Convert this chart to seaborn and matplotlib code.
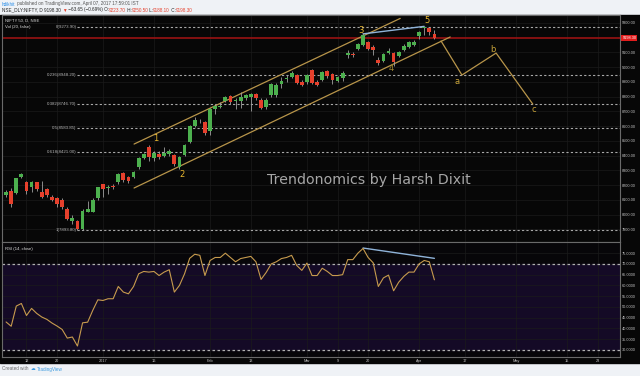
import numpy as np
import pandas as pd
import matplotlib
matplotlib.use("Agg")
import matplotlib.pyplot as plt
from matplotlib.patches import Rectangle
from matplotlib.transforms import IdentityTransform
import seaborn as sns

# daily candles, NIFTY 50, 6 Dec 2016 .. 7 Apr 2017 (trading-day index)
opens = [8131, 8163, 8143, 8252, 8218, 8184, 8218, 8150, 8170, 8122,
         8109, 8102, 8041, 7959, 7959, 7905, 8020, 8020, 8109, 8204,
         8180, 8197, 8218, 8279, 8252, 8252, 8320, 8381, 8456, 8381,
         8408, 8395, 8408, 8401, 8320, 8401, 8490, 8599, 8632, 8626,
         8565, 8714, 8728, 8769, 8803, 8770, 8769, 8789, 8796, 8816,
         8776, 8728, 8810, 8810, 8885, 8922, 8932, 8946, 8898, 8898,
         8980, 8898, 8912, 8973, 8952, 8905, 8925, 9082, 9088, 9122,
         9150, 9170, 9136, 9048, 9041, 9095, 9095, 9075, 9116, 9136,
         9150, 9211, 9264, 9265, 9223.7]
highs = [8166, 8177, 8250, 8279, 8230, 8225, 8222, 8225, 8180, 8130,
         8120, 8110, 8050, 8000, 7966, 8041, 8095, 8110, 8190, 8210,
         8200, 8205, 8280, 8290, 8260, 8292, 8390, 8415, 8470, 8430,
         8430, 8460, 8445, 8410, 8400, 8480, 8610, 8660, 8650, 8632,
         8720, 8750, 8765, 8803, 8810, 8790, 8830, 8820, 8825, 8825,
         8790, 8790, 8895, 8890, 8930, 8945, 8970, 8955, 8910, 8955,
         8990, 8915, 8973, 8980, 8960, 8939, 8975, 9116, 9100, 9160,
         9230, 9175, 9150, 9068, 9095, 9129, 9100, 9109, 9156, 9177,
         9184, 9245, 9273.9, 9270, 9250.5]
lows = [8118, 8048, 8138, 8245, 8140, 8150, 8160, 8110, 8120, 8090,
        8050, 8040, 7960, 7939, 7893.8, 7898, 8015, 8015, 8100, 8122,
        8140, 8175, 8210, 8220, 8215, 8245, 8310, 8375, 8360, 8360,
        8375, 8390, 8400, 8330, 8306, 8395, 8485, 8595, 8620, 8540,
        8537, 8680, 8720, 8760, 8750, 8715, 8720, 8780, 8705, 8780,
        8715, 8715, 8800, 8800, 8860, 8900, 8925, 8885, 8870, 8885,
        8885, 8870, 8905, 8925, 8885, 8898, 8905, 9061, 9070, 9118,
        9145, 9118, 9082, 9015, 9034, 9088, 9007, 9068, 9109, 9129,
        9143, 9190, 9215, 9215, 9188.1]
closes = [8152, 8075, 8245, 8272, 8163, 8218, 8170, 8116, 8130, 8102,
          8075, 8054, 7973, 7980, 7905, 8027, 8035, 8102, 8184, 8170,
          8186, 8184, 8272, 8231, 8225, 8286, 8381, 8408, 8388, 8415,
          8388, 8415, 8429, 8340, 8388, 8470, 8599, 8640, 8635, 8551,
          8714, 8735, 8735, 8796, 8762, 8774, 8796, 8810, 8816, 8789,
          8721, 8776, 8885, 8878, 8905, 8926, 8959, 8891, 8878, 8946,
          8891, 8880, 8966, 8939, 8912, 8932, 8959, 9095, 9085, 9156,
          9218, 9122, 9116, 9027, 9088, 9109, 9034, 9102, 9143, 9170,
          9170, 9238, 9268, 9238, 9198.3]
rsi = [43, 41, 50.4, 51.6, 46, 49.3, 47, 45.3, 44.2, 42.5,
       41.1, 39.5, 35.5, 36, 31.8, 42.6, 42.9, 48.4, 53.3, 53,
       53.8, 53.8, 59.5, 56.9, 56.1, 59.5, 65.4, 66.5, 66.2, 66.5,
       64.6, 66.2, 67.3, 56.9, 60, 65.4, 72.6, 74.5, 74, 64.6,
       71.6, 73, 73, 75, 73, 71, 72.5, 73, 73.5, 71,
       62.8, 66, 70, 71, 72.5, 73, 74, 69.3, 67, 70.4,
       64.6, 64.6, 68, 66.5, 64.6, 64.6, 65, 72, 72, 75,
       77.2, 73, 70.5, 59.5, 63.5, 64.8, 57.5, 61.5, 64.2, 66.2,
       66.2, 70, 71.6, 71, 62.6]

date_ticks = [4, 10, 19, 29, 40, 48, 59, 65, 71, 81, 90, 100, 110, 116]
date_labels = ["12", "20", "2017", "16", "Feb", "13", "Mar", "9", "20",
               "Apr", "17", "May", "15", "23"]
price_ticks = [7900, 8000, 8100, 8200, 8300, 8400, 8500, 8600, 8700,
               8800, 8900, 9000, 9100, 9300]
rsi_ticks = [30, 35, 40, 45, 50, 55, 60, 65, 70, 75]

fib_ratios = ["0", "0.236", "0.382", "0.5", "0.618", "1"]
fib_levels = [9273.90, 8948.20, 8746.70, 8583.85, 8421.00, 7893.80]
last_price = 9198.30

chan_x = [25.1, 77.3]
chan_upper = [8478, 9330]
chan_lower_x = [25.1, 87.1]
chan_lower = [8180, 9204]
abc_x = [85.3, 89.4, 96.1, 103.3]
abc_y = [9177, 8946, 9095, 8749]
div_price_x = [70, 82]
div_price_y = [9225, 9276]
div_rsi_x = [70, 84]
div_rsi_y = [77.4, 72.6]

wave_text = ["1", "2", "3", "4", "5", "a", "b", "c"]
wave_x = [29.4, 34.5, 69.6, 75.5, 82.5, 88.4, 95.5, 103.5]
wave_y = [8519, 8275, 9251, 8987, 9319, 8905, 9122, 8715]
wave_col = ["#e8b730", "#e8b730", "#e8b730", "#9c8430", "#e8b730",
            "#c9a43a", "#c9a43a", "#c9a43a"]

W, H = 640, 376
XL = (-0.8, 120.4)
GREEN, RED = "#4cb04e", "#e6402c"
GOLD = "#b8954a"
SMALL = ["Liberation Sans", "DejaVu Sans"]

sns.set_theme(style="dark")
plt.rcParams["font.family"] = ["DejaVu Sans"]

fig = plt.figure(figsize=(W / 100, H / 100), dpi=100, facecolor="#eff2f6")
fig.add_artist(Rectangle((0, 13 / H), 1, 1 - 28 / H, transform=fig.transFigure,
                         color="#070707", zorder=0))

ax = fig.add_axes([2 / W, 1 - 242 / H, 618 / W, 227 / H])
ax2 = fig.add_axes([2 / W, 1 - 357 / H, 618 / W, 115 / H], sharex=ax)
ax.set_facecolor("#070707")
ax2.set_facecolor("#070609")

df = pd.DataFrame({"open": opens, "high": highs, "low": lows,
                   "close": closes, "rsi": rsi})
df["idx"] = np.arange(len(df))
up = df.close >= df.open
ax.vlines(df.idx, df.low, df.high, color="#a0a0a0", lw=0.6, zorder=3)
ax.bar(df.idx, (df.close - df.open).abs().clip(lower=5),
       bottom=np.minimum(df.open, df.close), width=0.74,
       color=np.where(up, GREEN, RED), lw=0, zorder=4)

for r, lv in zip(fib_ratios, fib_levels):
    ax.hlines(lv, 14.0, XL[1], color="#a8a8a8", lw=0.8,
              linestyles=(0, (2, 2)), zorder=2)
    ax.text(13.8, lv, f"{r}({lv:.2f})", ha="right", va="center",
            fontsize=3.2, color="#b5b5b5", family=SMALL)
ax.axhline(last_price, color="#8e1212", lw=1.3, zorder=2)

sns.lineplot(x=chan_x, y=chan_upper, ax=ax, color=GOLD, lw=0.9)
sns.lineplot(x=chan_lower_x, y=chan_lower, ax=ax, color=GOLD, lw=0.9)
sns.lineplot(x=abc_x, y=abc_y, ax=ax, color=GOLD, lw=0.9, sort=False)
sns.lineplot(x=div_price_x, y=div_price_y, ax=ax, color="#8fb3d9", lw=1.0)
for t, x, y, c in zip(wave_text, wave_x, wave_y, wave_col):
    ax.text(x, y, t, color=c, fontsize=6, ha="center", va="center", zorder=6)

ax.text(0.428, 0.272, "Trendonomics by Harsh Dixit", transform=ax.transAxes,
        fontsize=10.2, color="#a6a6a6", va="center")

ax.set_xlim(*XL)
ax.set_ylim(7814, 9353)
ax.yaxis.tick_right()
ax.set_yticks(price_ticks)
ax.set_yticklabels([f"{p:.2f}" for p in price_ticks])
ax.text(1.004, last_price, f"{last_price:.2f}", transform=ax.get_yaxis_transform(),
        fontsize=2.8, color="white", va="center", family=SMALL,
        bbox=dict(boxstyle="square,pad=0.25", fc="#e21d1d", ec="none"))
ax.text(0.005, 0.975, "NIFTY 50, D, NSE", transform=ax.transAxes,
        fontsize=3.1, color="#dddddd", va="center", family=SMALL)
ax.text(0.005, 0.945, "Vol (20, false)", transform=ax.transAxes,
        fontsize=3.1, color="#dddddd", va="center", family=SMALL)

# RSI pane
ax2.axhspan(30, 70, color="#140a26", zorder=0)
for lv in (70, 30):
    ax2.axhline(lv, color="#b0b0b0", lw=0.9, ls=(0, (2, 2)), zorder=2)
sns.lineplot(data=df, x="idx", y="rsi", ax=ax2, color="#c79b4e", lw=0.8, zorder=3)
sns.lineplot(x=div_rsi_x, y=div_rsi_y, ax=ax2, color="#8fb3d9", lw=1.0)
ax2.set_ylim(26.7, 80.2)
ax2.yaxis.tick_right()
ax2.set_yticks(rsi_ticks)
ax2.set_yticklabels([f"{v:.4f}" for v in rsi_ticks])
ax2.set_xticks(date_ticks)
ax2.set_xticklabels(date_labels)
ax2.set_xlabel("")
ax2.set_ylabel("")
ax.set_xlabel("")
ax.set_ylabel("")
ax2.text(0.005, 0.935, "RSI (14, close)", transform=ax2.transAxes,
         fontsize=3.1, color="#dddddd", va="center", family=SMALL)

for a in (ax, ax2):
    a.grid(True, color="#1b1b1b", lw=0.5)
    a.set_axisbelow(True)
    a.tick_params(length=0, pad=1.5, labelsize=2.8, colors="#c4c4c4")
    for lab in a.get_xticklabels() + a.get_yticklabels():
        lab.set_family(SMALL)
    for s in a.spines.values():
        s.set_color("#6a6a6a")
        s.set_linewidth(0.8)
plt.setp(ax.get_xticklabels(), visible=False)


def chain(parts, x, y, size, weight="normal"):
    r = fig.canvas.get_renderer()
    for s, c in parts:
        t = fig.text(x, H - y, s, color=c, fontsize=size, va="center",
                     family=SMALL, weight=weight, transform=IdentityTransform())
        x += t.get_window_extent(r).width


chain([("hdikhit", "#2a8ee8"),
       (" published on TradingView.com, April 07, 2017 17:59:01 IST", "#555555")],
      2, 4, 3.3)
chain([("NSE_DLY:NIFTY, D ", "#222222"), ("9198.30 ", "#222222"), ("\u25bc", RED),
       (" \u221263.65 (\u22120.69%) O:", "#222222"), ("9223.70", RED),
       (" H:", "#222222"), ("9250.50", RED), (" L:", "#222222"), ("9188.10", RED),
       (" C:", "#222222"), ("9198.30", RED)], 2, 10, 3.3)
chain([("Created with  ", "#666666"), ("\u2601 ", "#3b9be0"),
       ("TradingView", "#3b9be0")], 2, 369, 3.3)

fig.savefig("out.png", dpi=100, facecolor=fig.get_facecolor())
